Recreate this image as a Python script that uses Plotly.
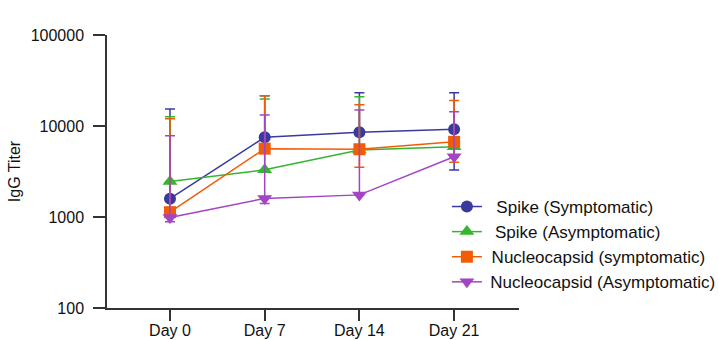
import plotly.graph_objects as go

days = ["Day 0", "Day 7", "Day 14", "Day 21"]

spike_sym = [1590, 7520, 8530, 9200]
spike_sym_hi = [15400, 21500, 23200, 23200]
spike_sym_lo = [1590, 7520, 8530, 3280]

spike_asym = [2450, 3300, 5450, 5900]
spike_asym_hi = [12600, 19800, 21000, 5900]
spike_asym_lo = [2450, 3300, 5450, 5900]

nuc_sym = [1130, 5640, 5550, 6700]
nuc_sym_hi = [12000, 21500, 17100, 19100]
nuc_sym_lo = [1130, 5640, 3520, 3990]

nuc_asym = [990, 1600, 1750, 4600]
nuc_asym_hi = [7820, 13200, 15000, 14300]
nuc_asym_lo = [887, 1410, 1750, 4600]

series = [
    ("\u00a0\u00a0Spike (Symptomatic)", spike_sym, spike_sym_hi, spike_sym_lo, "#3a3a9e", "circle", 12),
    ("\u00a0\u2009Spike (Asymptomatic)", spike_asym, spike_asym_hi, spike_asym_lo, "#33b52f", "triangle-up", 13),
    ("\u00a0Nucleocapsid (symptomatic)", nuc_sym, nuc_sym_hi, nuc_sym_lo, "#f25c05", "square", 12),
    ("\u2009Nucleocapsid (Asymptomatic)", nuc_asym, nuc_asym_hi, nuc_asym_lo, "#a244c4", "triangle-down", 13),
]

font = "Liberation Sans, Arial, sans-serif"
fig = go.Figure()
for i, (name, y, hi, lo, color, sym, size) in enumerate(series):
    fig.add_trace(go.Scatter(
        x=days, y=y, name=name, mode="lines+markers",
        line=dict(color=color, width=1.5),
        marker=dict(color=color, symbol=sym, size=size),
        legendgroup="g%d" % i,
        error_y=dict(type="data", symmetric=False,
                     array=[h - v for h, v in zip(hi, y)],
                     arrayminus=[v - l for v, l in zip(y, lo)],
                     color=color, thickness=1.5, width=5),
    ))

fig.update_layout(
    width=718, height=340,
    margin=dict(l=107, r=199, t=35, b=32, autoexpand=False),
    paper_bgcolor="white", plot_bgcolor="white",
    font=dict(family=font, size=16, color="#111"),
    showlegend=True,
    legend=dict(x=0.825, xanchor="left", y=0.436, yanchor="top",
                font=dict(size=17, family=font, color="#111"),
                bgcolor="rgba(0,0,0,0)", tracegroupgap=0,
                itemwidth=30),
    xaxis=dict(type="category", range=[-0.665, 3.685],
               showline=True, linecolor="#333", linewidth=1.5,
               ticks="outside", ticklen=11, tickwidth=1.5, tickcolor="#333",
               showgrid=False, zeroline=False, ticklabelstandoff=-4,
               tickfont=dict(size=16, family=font, color="#111")),
    yaxis=dict(type="log", range=[2, 5],
               tickvals=[100, 1000, 10000, 100000],
               ticktext=["100", "1000", "10000", "100000"],
               showline=True, linecolor="#333", linewidth=1.5,
               ticks="outside", ticklen=12, tickwidth=1.5, tickcolor="#333",
               showgrid=False, zeroline=False, ticklabelstandoff=6,
               tickfont=dict(size=16, family=font, color="#111"),
               title=dict(text="IgG Titer", standoff=6,
                          font=dict(size=16, family=font, color="#111"))),
)

fig.write_html("out.html")
